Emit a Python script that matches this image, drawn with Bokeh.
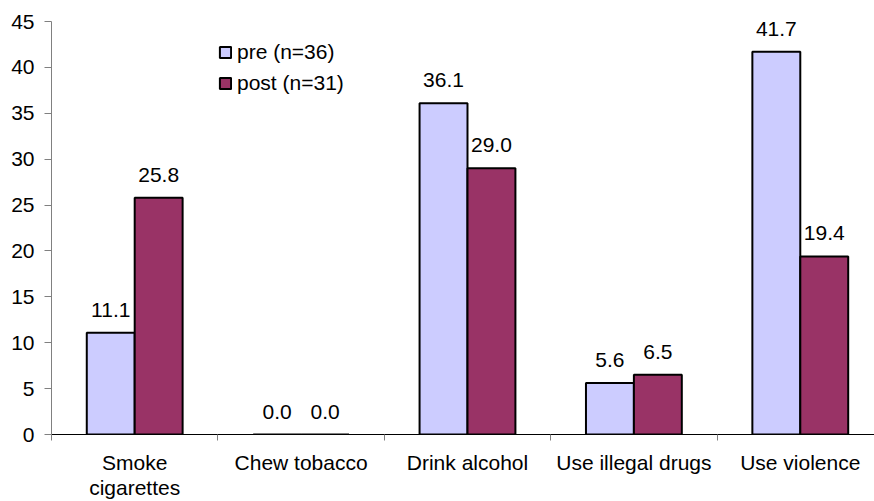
from bokeh.plotting import figure
from bokeh.models import (ColumnDataSource, FixedTicker, Range1d, Legend, LegendItem,
                          LabelSet)
from bokeh.core.properties import value
from bokeh.embed import file_html
from bokeh.resources import INLINE

# Survey results: share of respondents (%) before and after the programme
categories = ["Smoke\ncigarettes", "Chew tobacco", "Drink alcohol", "Use illegal drugs", "Use violence"]
pre_values = [11.1, 0.0, 36.1, 5.6, 41.7]
post_values = [25.8, 0.0, 29.0, 6.5, 19.4]
series_names = ["pre (n=36)", "post (n=31)"]
y_ticks = [0, 5, 10, 15, 20, 25, 30, 35, 40, 45]

FONT = "Liberation Sans"
FS = "21px"
PRE_COLOR = "#CCCCFF"
POST_COLOR = "#993366"

n = len(categories)
centers = [i + 0.5 for i in range(n)]
bar_w = 0.288

src_pre = ColumnDataSource(dict(
    x=[c - bar_w / 2 for c in centers], top=pre_values,
    label=[f"{v:.1f}" for v in pre_values]))
src_post = ColumnDataSource(dict(
    x=[c + bar_w / 2 for c in centers], top=post_values,
    label=[f"{v:.1f}" for v in post_values]))

p = figure(width=874, height=501, output_backend="svg", toolbar_location=None,
           x_range=Range1d(0, 4.946), y_range=Range1d(0, 45),
           min_border_left=51, min_border_right=0, min_border_top=21,
           min_border_bottom=67)
p.outline_line_color = None
p.grid.visible = False
p.background_fill_color = "white"

r_pre = p.vbar(x="x", top="top", width=bar_w, bottom=0, source=src_pre,
               fill_color=PRE_COLOR, line_color="black", line_width=2)
r_post = p.vbar(x="x", top="top", width=bar_w, bottom=0, source=src_post,
                fill_color=POST_COLOR, line_color="black", line_width=2)

# value labels above each bar
for src in (src_pre, src_post):
    p.add_layout(LabelSet(x="x", y="top", text="label", source=src,
                          text_align="center", text_baseline="alphabetic",
                          y_offset=16, text_font=value(FONT), text_font_size=value(FS),
                          text_color="black"))

# Y axis
p.yaxis.ticker = FixedTicker(ticks=y_ticks)
p.yaxis.axis_line_color = "#808080"
p.yaxis.major_tick_line_color = "#808080"
p.yaxis.major_tick_out = 7
p.yaxis.major_tick_in = 0
p.yaxis.minor_tick_line_color = None
p.yaxis.major_label_standoff = 10
p.yaxis.major_label_text_font = FONT
p.yaxis.major_label_text_font_size = FS
p.yaxis.major_label_text_color = "black"

# X axis: category names at the centres, separator ticks at the boundaries
p.xaxis.ticker = FixedTicker(ticks=centers, minor_ticks=list(range(n + 1)))
p.xaxis.major_label_overrides = {c: lab for c, lab in zip(centers, categories)}
p.xaxis.major_label_text_font = FONT
p.xaxis.major_label_text_font_size = FS
p.xaxis.major_label_text_color = "black"
p.xaxis.major_label_text_line_height = 1.1
p.xaxis.major_label_standoff = 10
p.xaxis.axis_line_color = "black"
p.xaxis.major_tick_line_color = None
p.xaxis.major_tick_out = 0
p.xaxis.major_tick_in = 0
p.xaxis.minor_tick_line_color = "#808080"
p.xaxis.minor_tick_out = 6
p.xaxis.minor_tick_in = 0

legend = Legend(items=[LegendItem(label=series_names[0], renderers=[r_pre]),
                       LegendItem(label=series_names[1], renderers=[r_post])],
                location=(167, 338), border_line_color=None,
                background_fill_alpha=0, padding=0, margin=0, spacing=5,
                glyph_width=14, glyph_height=14, label_standoff=5,
                label_height=26, label_text_font=FONT,
                label_text_font_size=FS, label_text_color="black")
p.add_layout(legend)

open("out.html", "w").write(file_html(p, INLINE))
